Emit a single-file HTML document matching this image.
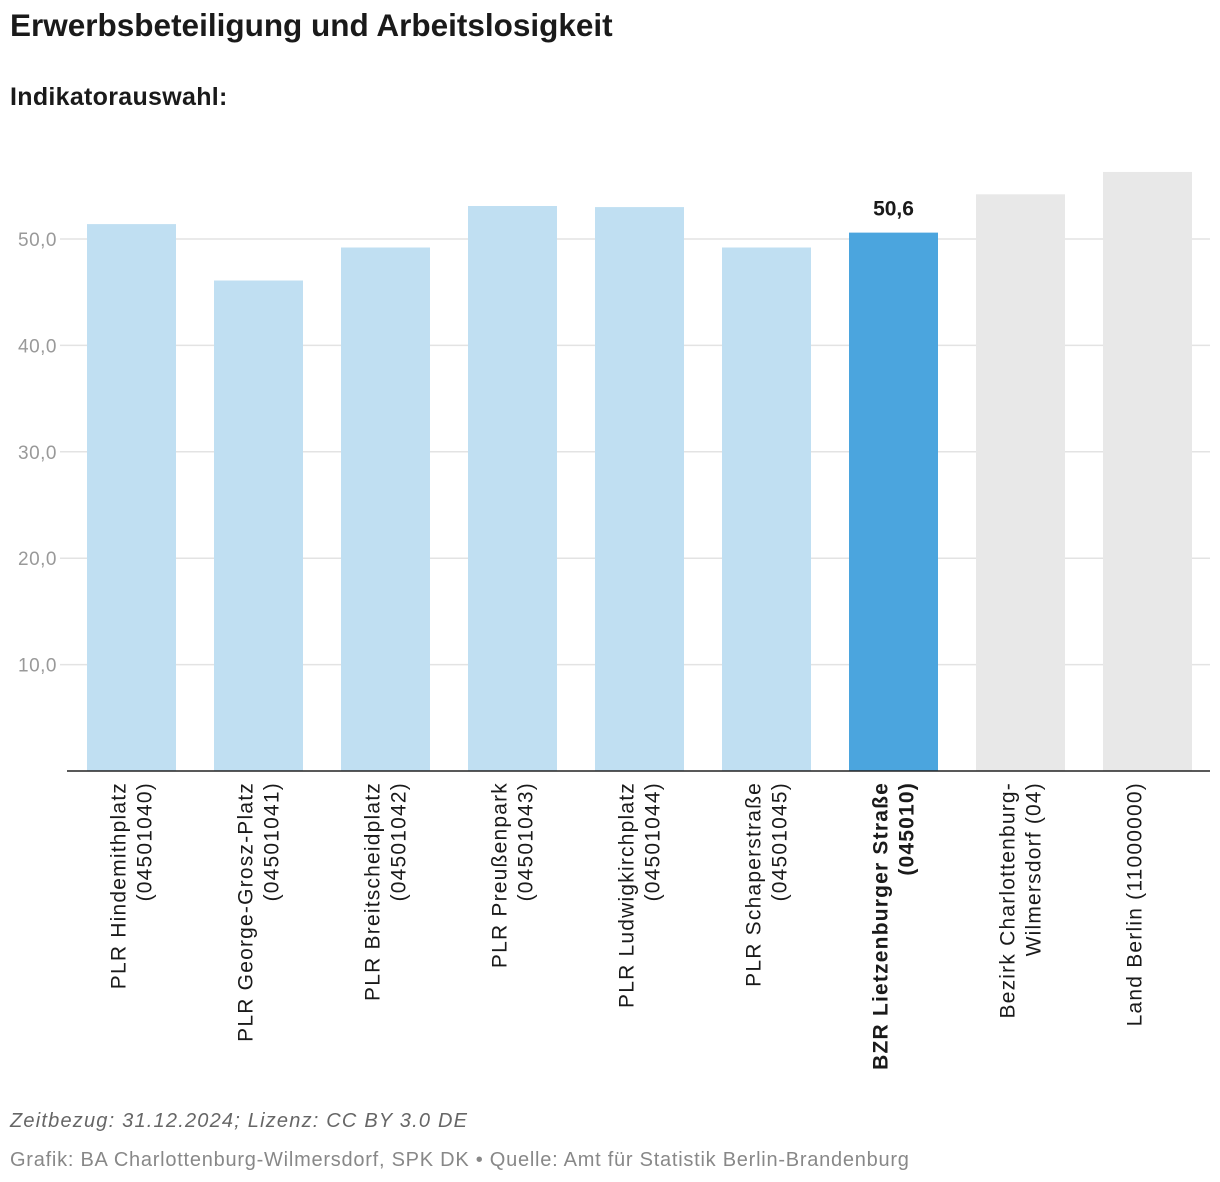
<!DOCTYPE html>
<html><head><meta charset="utf-8">
<style>
body{margin:0;background:#fff;font-family:"Liberation Sans",Roboto,sans-serif;}
.t{position:absolute;left:10px;white-space:nowrap;}
</style></head>
<body>
<div style="position:relative;width:1220px;height:1182px;overflow:hidden">
<div class="t" style="top:7px;font-size:31.5px;font-weight:bold;color:#1a1a1a">Erwerbsbeteiligung und Arbeitslosigkeit</div>
<div class="t" style="top:83px;font-size:25px;font-weight:bold;color:#1a1a1a;letter-spacing:0.3px">Indikatorauswahl:</div>
<svg id="chart" width="1220" height="1080" style="position:absolute;left:0;top:0"></svg>
<div class="t" style="top:1110px;font-size:20px;font-style:italic;color:#666;letter-spacing:1.2px">Zeitbezug: 31.12.2024; Lizenz: CC BY 3.0 DE</div>
<div class="t" style="top:1149px;font-size:20px;color:#888;letter-spacing:0.75px">Grafik: BA Charlottenburg-Wilmersdorf, SPK DK • Quelle: Amt für Statistik Berlin-Brandenburg</div>
</div>
<script>
const categories=[["PLR Hindemithplatz","(04501040)"],["PLR George-Grosz-Platz","(04501041)"],["PLR Breitscheidplatz","(04501042)"],["PLR Preußenpark","(04501043)"],["PLR Ludwigkirchplatz","(04501044)"],["PLR Schaperstraße","(04501045)"],["BZR Lietzenburger Straße","(045010)"],["Bezirk Charlottenburg-","Wilmersdorf (04)"],["Land Berlin (11000000)"]];
const values=[51.4,46.1,49.2,53.1,53.0,49.2,50.6,54.2,56.3];
const kinds=["plr","plr","plr","plr","plr","plr","bzr","ref","ref"];
const ticks=[10,20,30,40,50];
const tickLabels=["10,0","20,0","30,0","40,0","50,0"];
const NS="http://www.w3.org/2000/svg";
const svg=document.getElementById('chart');
const y0=771,pxPer=10.64,left=67,right=1210,band=127,bw=89;
const y=v=>y0-v*pxPer;
const xc=i=>left+band*i+band/2+1;
function mk(t,a){const e=document.createElementNS(NS,t);for(const k in a)e.setAttribute(k,a[k]);svg.appendChild(e);return e;}
ticks.forEach((t,i)=>{
 const g=mk('line',{x1:60,x2:right,y1:y(t),y2:y(t),stroke:'#e3e3e3','stroke-width':1.5});
 
 
 const l=mk('text',{x:57,y:y(t)+7,'text-anchor':'end','font-size':19,fill:'#999','font-family':'Liberation Sans, sans-serif','letter-spacing':0.5});
 l.textContent=tickLabels[i];
 
 
});
const colors={plr:'#c0dff2',bzr:'#4ba5de',ref:'#e8e8e8'};
values.forEach((v,i)=>{
 const r=mk('rect',{x:xc(i)-bw/2,y:y(v),width:bw,height:y0-y(v),fill:colors[kinds[i]]});
 
 
 if(kinds[i]==='bzr'){
  const t=mk('text',{x:xc(i),y:y(v)-17,'text-anchor':'middle','font-size':21,'font-weight':'bold',fill:'#1a1a1a','font-family':'Liberation Sans, sans-serif'});
  t.textContent=v.toFixed(1).replace('.',',');
  
  
 }
 const g=mk('g',{transform:`translate(${xc(i)},782) rotate(-90)`});
 
 
 categories[i].forEach((line,j)=>{
  const t=document.createElementNS(NS,'text');
  t.setAttribute('x',0);t.setAttribute('y',(j-0.5)*26+7);
  t.setAttribute('text-anchor','end');t.setAttribute('font-size',21);
  t.setAttribute('letter-spacing',1.2);
  t.setAttribute('fill','#1a1a1a');t.setAttribute('font-family','Liberation Sans, sans-serif');
  if(kinds[i]==='bzr')t.setAttribute('font-weight','bold');
  t.textContent=line;g.appendChild(t);
 });
});
const ax=mk('line',{x1:67,x2:right,y1:y0,y2:y0,stroke:'#222','stroke-width':1.5});


</script>
</body></html>
